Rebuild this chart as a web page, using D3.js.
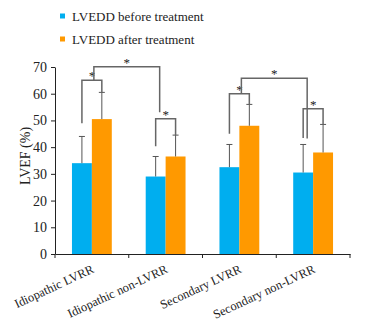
<!DOCTYPE html>
<html>
<head>
<meta charset="utf-8">
<script src="https://cdn.jsdelivr.net/npm/d3@7"></script>
<style>
  body { margin: 0; background: #fff; }
  text { font-family: "Liberation Serif", "Times New Roman", serif; fill: #222; }
</style>
</head>
<body>
<svg class="chart"></svg>
<script>
// groups and series
var groups = ["Idiopathic LVRR", "Idiopathic non-LVRR", "Secondary LVRR", "Secondary non-LVRR"];
var seriesNames = ["LVEDD before treatment", "LVEDD after treatment"];
var before = [34, 29, 32.5, 30.5];
var after = [50.5, 36.5, 48, 38];
var beforeSD = [10, 7.5, 8.5, 10.5];
var afterSD = [10, 8, 8, 10.5];
var yTicks = [0, 10, 20, 30, 40, 50, 60, 70];

// within-group brackets: [left leg start, top, right leg end] in LVEF units
var pairBrackets = [[48.9, 65, 60.5], [40.3, 50.6, 44.5], [45, 60, 56], [43.4, 54.4, 48.5]];
// between-group brackets: [group a, group b, left start, top, right end]
var groupBrackets = [[0, 1, 65, 70.1, 53.1], [2, 3, 60, 65.8, 43.2]];

var width = 372, height = 327;
var margin = {top: 67, left: 55, right: 22, bottom: 73};

var svg = d3.select(".chart")
    .attr("width", width)
    .attr("height", height);

var x = d3.scaleBand().domain(groups).range([margin.left, width - margin.right]).paddingInner(0.46).paddingOuter(0.23);
var xb = d3.scaleBand().domain([0, 1]).range([0, x.bandwidth()]);
var y = d3.scaleLinear().domain([0, 70]).range([height - margin.bottom, margin.top]);

var colors = ["#00aeef", "#ff9900"];

// bars
var g = svg.append("g");
groups.forEach(function (name, i) {
    [before[i], after[i]].forEach(function (v, s) {
        var sd = s === 0 ? beforeSD[i] : afterSD[i];
        var bx = x(name) + xb(s);
        g.append("rect")
            .attr("x", bx)
            .attr("y", y(v))
            .attr("width", xb.bandwidth())
            .attr("height", y(0) - y(v))
            .attr("fill", colors[s]);
        var cx = bx + xb.bandwidth() / 2;
        g.append("line").attr("x1", cx).attr("x2", cx).attr("y1", y(v)).attr("y2", y(v + sd))
            .attr("stroke", "#555").attr("stroke-width", 1);
        g.append("line").attr("x1", cx - 3).attr("x2", cx + 3).attr("y1", y(v + sd)).attr("y2", y(v + sd))
            .attr("stroke", "#555").attr("stroke-width", 1);
    });
});

// axes
var yAxis = svg.append("g")
    .attr("transform", "translate(" + margin.left + ",0)")
    .call(d3.axisLeft(y).tickValues(yTicks).tickSize(4).tickSizeOuter(0));
yAxis.selectAll("text").attr("font-size", 14).attr("dx", "-1");

var xAxis = svg.append("g")
    .attr("transform", "translate(0," + y(0) + ")")
    .call(d3.axisBottom(x).tickSize(0).tickSizeOuter(0).tickFormat(""));
// tick marks between groups
var edges = [margin.left, width - margin.right];
groups.slice(1).forEach(function (name) { edges.push(x(name) - x.step() * x.paddingInner() / 2); });
xAxis.selectAll(".sep").data(edges).enter().append("line")
    .attr("x1", function (d) { return d; }).attr("x2", function (d) { return d; })
    .attr("y1", 0).attr("y2", 4).attr("stroke", "#222");

svg.selectAll(".domain").attr("stroke", "#222");
svg.selectAll(".tick line").attr("stroke", "#222");

// x labels
svg.selectAll(".xlab").data(groups).enter().append("text")
    .attr("class", "xlab")
    .attr("font-size", 12.5)
    .attr("text-anchor", "end")
    .attr("transform", function (d) {
        return "translate(" + (x(d) + x.bandwidth() / 2 + 3) + "," + (y(0) + 18) + ") rotate(-25)";
    })
    .text(function (d) { return d; });

// y label
svg.append("text")
    .attr("font-size", 14)
    .attr("text-anchor", "middle")
    .attr("transform", "translate(30,156) rotate(-90)")
    .text("LVEF (%)");

// brackets
var bc = "#666";
function star(cx, cy) {
    svg.append("text").attr("x", cx).attr("y", cy + 9).attr("text-anchor", "middle")
        .attr("font-size", 13).attr("fill", "#333").text("*");
}
pairBrackets.forEach(function (b, i) {
    var x1 = x(groups[i]) + xb(0) + xb.bandwidth() / 2,
        x2 = x(groups[i]) + xb(1) + xb.bandwidth() / 2;
    svg.append("path")
        .attr("d", "M" + x1 + "," + y(b[0]) + "V" + y(b[1]) + "H" + x2 + "V" + y(b[2]))
        .attr("fill", "none").attr("stroke", bc).attr("stroke-width", 1.5);
    star((x1 + x2) / 2, y(b[1]) - 9);
});
groupBrackets.forEach(function (b) {
    var x1 = x(groups[b[0]]) + x.bandwidth() / 2 + 2,
        x2 = x(groups[b[1]]) + xb.bandwidth() / 2 + 4;
    svg.append("path")
        .attr("d", "M" + x1 + "," + y(b[2]) + "V" + y(b[3]) + "H" + x2 + "V" + y(b[4]))
        .attr("fill", "none").attr("stroke", bc).attr("stroke-width", 1.5);
    star((x1 + x2) / 2, y(b[3]) - 9);
});

// legend
var legend = svg.selectAll(".leg").data(seriesNames).enter().append("g")
    .attr("transform", function (d, i) { return "translate(60," + (16 + i * 23) + ")"; });
legend.append("rect").attr("x", 0).attr("y", -2.5).attr("width", 5).attr("height", 5)
    .attr("fill", function (d, i) { return colors[i]; });
legend.append("text").attr("x", 12).attr("y", 5).attr("font-size", 13)
    .text(function (d) { return d; });
</script>
</body>
</html>
